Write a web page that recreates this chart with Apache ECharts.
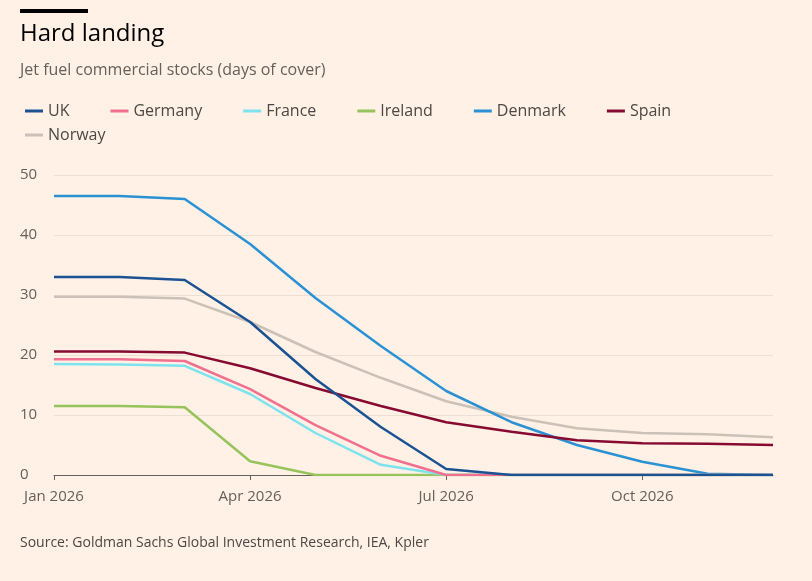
<!DOCTYPE html>
<html><head><meta charset="utf-8">
<script src="https://cdn.jsdelivr.net/npm/echarts@6/dist/echarts.min.js"></script>
<style>html,body{margin:0;background:#FFF1E5}#c{width:812px;height:581px}</style>
</head><body><div id="c"></div>
<script>
var months = ['Jan 2026','Feb 2026','Mar 2026','Apr 2026','May 2026','Jun 2026','Jul 2026','Aug 2026','Sep 2026','Oct 2026','Nov 2026','Dec 2026'];
var uk      = [33, 33, 32.5, 25.5, 16, 8, 1, 0, 0, 0, 0, 0];
var germany = [19.3, 19.3, 19, 14.3, 8.3, 3.2, 0, 0, 0, 0, 0, 0];
var france  = [18.5, 18.4, 18.2, 13.5, 7, 1.7, 0, 0, 0, 0, 0, 0];
var ireland = [11.5, 11.5, 11.3, 2.3, 0, 0, 0, 0, 0, 0, 0, 0];
var denmark = [46.5, 46.5, 46, 38.5, 29.5, 21.5, 14, 8.8, 5, 2.2, 0.2, 0];
var spain   = [20.6, 20.6, 20.4, 17.8, 14.5, 11.5, 8.8, 7.2, 5.8, 5.3, 5.2, 5];
var norway  = [29.7, 29.7, 29.4, 25.5, 20.5, 16.2, 12.3, 9.7, 7.8, 7, 6.8, 6.3];

var names = ['UK','Germany','France','Ireland','Denmark','Spain','Norway'];
var values = [uk, germany, france, ireland, denmark, spain, norway];
var colors = ['#1a5294','#f2708f','#7de3ef','#96c35b','#2a91d5','#870a32','#cbc1b8'];
// draw order so the UK line sits on top of the zero crowd
var order = [6, 4, 5, 3, 2, 1, 0];

var legendBase = {
  left: 20, itemGap: 41, icon: 'rect', itemWidth: 18, itemHeight: 3,
  textStyle: {fontSize: 16, color: '#4d4845', fontFamily: '"Open Sans", sans-serif'}
};

var chart = echarts.init(document.getElementById('c'));
chart.setOption({
  backgroundColor: '#FFF1E5',
  animation: false,
  color: colors,
  textStyle: {fontFamily: '"Open Sans", sans-serif'},
  graphic: [
    {type: 'rect', left: 20, top: 9, shape: {width: 68, height: 4}, style: {fill: '#000'}},
    {type: 'text', left: 20, top: 22, style: {text: 'Hard landing', fontSize: 24, fill: '#000', fontFamily: '"Open Sans", sans-serif'}},
    {type: 'text', left: 20, top: 62, style: {text: 'Jet fuel commercial stocks (days of cover)', fontSize: 16, fill: '#66605c', fontFamily: '"Open Sans", sans-serif'}},
    {type: 'text', left: 20, top: 536, style: {text: 'Source: Goldman Sachs Global Investment Research, IEA, Kpler', fontSize: 14, fill: '#4d4845', fontFamily: '"Open Sans", sans-serif'}}
  ],
  legend: [
    Object.assign({}, legendBase, {top: 98, data: names.slice(0, 6)}),
    Object.assign({}, legendBase, {top: 122, data: names.slice(6)})
  ],
  grid: {left: 54, right: 39, top: 175, bottom: 106},
  xAxis: {
    type: 'category', data: months, boundaryGap: false,
    axisLine: {lineStyle: {color: '#66605c'}},
    axisTick: {show: true, length: 5, lineStyle: {color: '#66605c'}},
    axisLabel: {interval: 2, fontSize: 15, color: '#66605c', margin: 14},
    splitLine: {show: false}
  },
  yAxis: {
    type: 'value', min: 0, max: 50, interval: 10,
    axisLabel: {fontSize: 15, color: '#66605c', margin: 34, align: 'left'},
    splitLine: {lineStyle: {color: '#ece0d5'}}
  },
  series: order.map(function (i) {
    return {
      name: names[i], type: 'line', data: values[i], symbol: 'none',
      lineStyle: {width: 2.5, color: colors[i]}, itemStyle: {color: colors[i]}
    };
  })
});
</script></body></html>
